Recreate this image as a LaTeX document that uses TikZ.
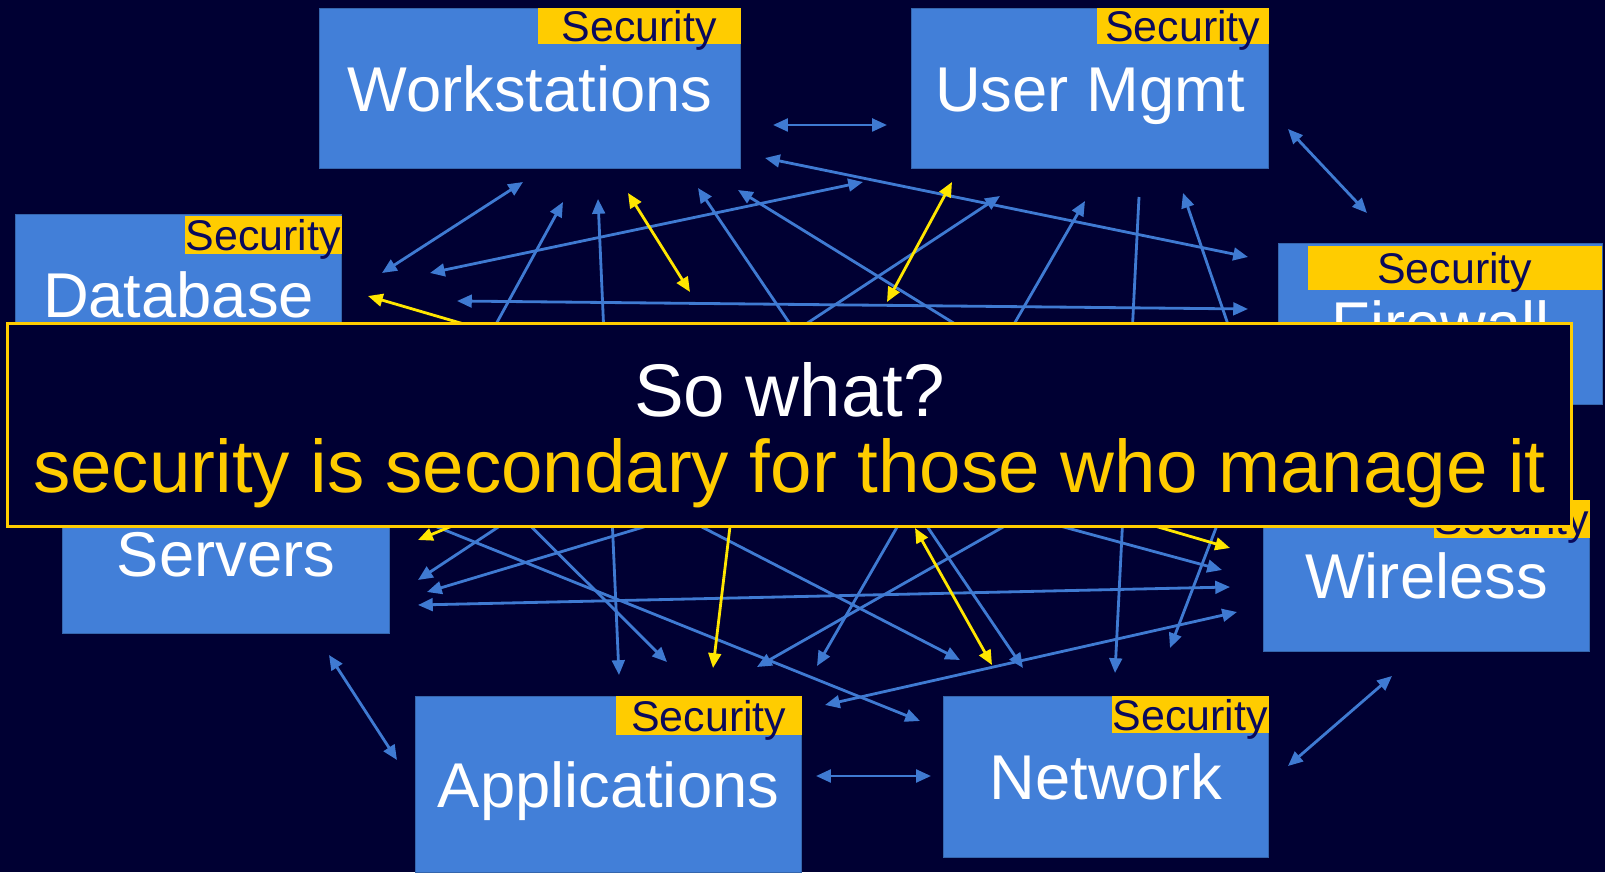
\documentclass[tikz,border=0pt]{standalone}
\usepackage{fontspec}
\setmainfont{Liberation Sans}
\usetikzlibrary{arrows.meta}

\definecolor{slidebg}{HTML}{000033}
\definecolor{boxblue}{HTML}{427FD8}
\definecolor{tagyellow}{HTML}{FFCC00}
\definecolor{tagtext}{HTML}{0A0A5C}
\definecolor{linkblue}{HTML}{3F7AD2}
\definecolor{hotyellow}{HTML}{FFE600}

\begin{document}
\begin{tikzpicture}[x=0.01cm, y=-0.01cm, >={Triangle[length=4.2pt,width=3.6pt]},
	sys_node/.style={fill=boxblue,draw=boxblue!80!black,line width=0.3pt,text=white,font=\fontsize{18}{18}\selectfont,text height=12.9pt,text depth=0pt,inner sep=0pt},
	tag_node/.style={fill=tagyellow,text=tagtext,font=\fontsize{12.2}{12.2}\selectfont,text height=9.6pt,text depth=0.6pt,inner sep=0pt,anchor=north west},
	link/.style={draw=linkblue,line width=0.8pt},
	hot_link/.style={draw=hotyellow,line width=0.8pt}]

	\fill[slidebg] (0,0) rectangle (1605,872);

	% ends of the links (s = start, t = tip)
	\coordinate (s1) at (773,125); \coordinate (t1) at (887,125);
	\coordinate (s2) at (1288,129); \coordinate (t2) at (1367,213);
	\coordinate (s3) at (523,182); \coordinate (t3) at (382,273);
	\coordinate (s4) at (430,273); \coordinate (t4) at (863,182);
	\coordinate (s5) at (457,301); \coordinate (t5) at (1248,309);
	\coordinate (s6) at (765,158); \coordinate (t6) at (1248,257);
	\coordinate (s7) at (598,199); \coordinate (t7) at (619,675);
	\coordinate (s8) at (698,188); \coordinate (t8) at (1023,668);
	\coordinate (s9) at (1000,196); \coordinate (t9) at (418,580);
	\coordinate (s10) at (1085,201); \coordinate (t10) at (817,666);
	\coordinate (s11) at (418,605); \coordinate (t11) at (1230,587);
	\coordinate (s12) at (825,705); \coordinate (t12) at (1237,612);
	\coordinate (s13) at (329,655); \coordinate (t13) at (397,760);
	\coordinate (s14) at (816,776); \coordinate (t14) at (931,776);
	\coordinate (s15) at (1288,766); \coordinate (t15) at (1392,676);

	\coordinate (s16) at (427,450); \coordinate (t16) at (563,202);
	\coordinate (s17) at (1208,480); \coordinate (t17) at (738,190);
	\coordinate (s18) at (1139,197); \coordinate (t18) at (1115,673);
	\coordinate (s19) at (1271,450); \coordinate (t19) at (1183,193);
	\coordinate (s20) at (1067,400); \coordinate (t20) at (427,592);
	\coordinate (s21) at (121,400); \coordinate (t21) at (920,721);
	\coordinate (s22) at (344,340); \coordinate (t22) at (667,662);
	\coordinate (s23) at (339,340); \coordinate (t23) at (960,660);
	\coordinate (s24) at (1332,340); \coordinate (t24) at (757,667);
	\coordinate (s25) at (596,400); \coordinate (t25) at (1222,570);
	\coordinate (s26) at (1265,400); \coordinate (t26) at (1170,648);

	\coordinate (s27) at (628,193); \coordinate (t27) at (690,292);
	\coordinate (s28) at (952,182); \coordinate (t28) at (887,302);
	\coordinate (s29) at (368,296); \coordinate (t29) at (1230,548);
	\coordinate (s30) at (915,528); \coordinate (t30) at (992,665);
	\coordinate (s31) at (637,450); \coordinate (t31) at (418,540);
	\coordinate (s32) at (750,360); \coordinate (t32) at (713,668);

	\draw[link,<->] (s1) -- (t1);
	\draw[link,<->] (s2) -- (t2);
	\draw[link,<->] (s3) -- (t3);
	\draw[link,<->] (s4) -- (t4);
	\draw[link,<->] (s5) -- (t5);
	\draw[link,<->] (s6) -- (t6);
	\draw[link,<->] (s7) -- (t7);
	\draw[link,<->] (s8) -- (t8);
	\draw[link,<->] (s9) -- (t9);
	\draw[link,<->] (s10) -- (t10);
	\draw[link,<->] (s11) -- (t11);
	\draw[link,<->] (s12) -- (t12);
	\draw[link,<->] (s13) -- (t13);
	\draw[link,<->] (s14) -- (t14);
	\draw[link,<->] (s15) -- (t15);

	\draw[link,->] (s16) -- (t16);
	\draw[link,->] (s17) -- (t17);
	\draw[link,->] (s18) -- (t18);
	\draw[link,->] (s19) -- (t19);
	\draw[link,->] (s20) -- (t20);
	\draw[link,->] (s21) -- (t21);
	\draw[link,->] (s22) -- (t22);
	\draw[link,->] (s23) -- (t23);
	\draw[link,->] (s24) -- (t24);
	\draw[link,->] (s25) -- (t25);
	\draw[link,->] (s26) -- (t26);

	\draw[hot_link,<->] (s27) -- (t27);
	\draw[hot_link,<->] (s28) -- (t28);
	\draw[hot_link,<->] (s29) -- (t29);
	\draw[hot_link,<->] (s30) -- (t30);
	\draw[hot_link,->] (s31) -- (t31);
	\draw[hot_link,->] (s32) -- (t32);

	% the systems
	\node[sys_node,minimum width=4.2cm,minimum height=1.59cm] (ws) at (530,88.5) {Workstations};
	\node[sys_node,minimum width=3.56cm,minimum height=1.59cm] (um) at (1090,88.5) {User Mgmt};
	\node[sys_node,minimum width=3.25cm,minimum height=1.59cm] (db) at (178.5,294.5) {Database};
	\node[sys_node,minimum width=3.23cm,minimum height=1.6cm] (fw) at (1440.5,324) {Firewall};
	\node[sys_node,minimum width=3.26cm,minimum height=1.59cm] (sv) at (226,553.5) {Servers};
	\node[sys_node,minimum width=3.25cm,minimum height=1.5cm] (wl) at (1426.5,576) {Wireless};
	\node[sys_node,minimum width=3.85cm,minimum height=1.75cm] (ap) at (608.5,784.5) {Applications};
	\node[sys_node,minimum width=3.24cm,minimum height=1.6cm] (nw) at (1106,777) {Network};

	\node[tag_node,minimum width=2.03cm,minimum height=0.36cm] (ws_tag) at (537,7) {Security};
	\node[tag_node,minimum width=1.72cm,minimum height=0.36cm] (um_tag) at (1096,7) {Security};
	\node[tag_node,minimum width=1.57cm,minimum height=0.38cm] (db_tag) at (184,215) {Security};
	\node[tag_node,minimum width=2.94cm,minimum height=0.44cm] (fw_tag) at (1307,245) {Security};
	\node[tag_node,minimum width=1.56cm,minimum height=0.38cm] (wl_tag) at (1433,499) {Security};
	\node[tag_node,minimum width=1.86cm,minimum height=0.39cm] (ap_tag) at (615,695) {Security};
	\node[tag_node,minimum width=1.57cm,minimum height=0.37cm] (nw_tag) at (1111,695) {Security};

	% the message on top
	\node[draw=tagyellow,line width=0.85pt,fill=slidebg,minimum width=15.63cm,minimum height=2.02cm] (msg) at (789.5,425) {};
	\node[anchor=base,text=white,font=\fontsize{21.2}{21.2}\selectfont] (sowhat) at (789.5,417) {So what?};
	\node[anchor=base,text=tagyellow,font=\fontsize{21.2}{21.2}\selectfont] (verdict) at (789.5,493) {security is secondary for those who manage it};
\end{tikzpicture}
\end{document}
